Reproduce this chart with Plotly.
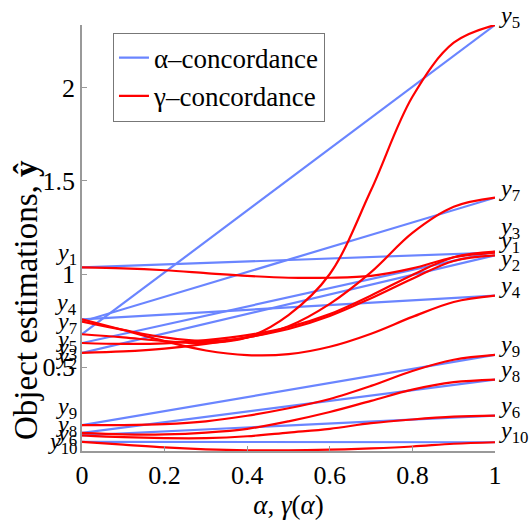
import plotly.graph_objects as go

# ---------------- data ----------------
objects = ["1", "2", "3", "4", "5", "6", "7", "8", "9", "10"]
alpha_ends = [0, 1]
start_vals = [1.035, 0.577, 0.630, 0.757, 0.677, 0.135, 0.745, 0.148, 0.190, 0.100]
end_vals = [1.115, 1.100, 1.120, 0.884, 2.335, 0.241, 1.409, 0.434, 0.566, 0.098]

alpha_grid = [0.0, 0.1, 0.2, 0.3, 0.4, 0.5, 0.6, 0.7, 0.8, 0.9, 1.0]
gamma_y1 = [1.035, 1.030, 1.020, 1.005, 0.990, 0.980, 0.980, 0.990, 1.030, 1.090, 1.115]
gamma_y2 = [0.577, 0.585, 0.600, 0.625, 0.660, 0.705, 0.775, 0.870, 0.975, 1.070, 1.100]
gamma_y3 = [0.630, 0.625, 0.628, 0.645, 0.672, 0.715, 0.785, 0.885, 0.995, 1.090, 1.120]
gamma_y4 = [0.757, 0.700, 0.640, 0.590, 0.565, 0.570, 0.610, 0.680, 0.770, 0.850, 0.884]
gamma_y5 = [0.677, 0.660, 0.640, 0.630, 0.660, 0.780, 1.000, 1.450, 1.950, 2.240, 2.335]
gamma_y6 = [0.135, 0.125, 0.120, 0.120, 0.130, 0.150, 0.170, 0.200, 0.220, 0.235, 0.241]
gamma_y7 = [0.745, 0.700, 0.660, 0.640, 0.660, 0.720, 0.840, 1.010, 1.220, 1.360, 1.409]
gamma_y8 = [0.148, 0.140, 0.140, 0.150, 0.170, 0.210, 0.260, 0.320, 0.380, 0.420, 0.434]
gamma_y9 = [0.190, 0.190, 0.195, 0.210, 0.240, 0.280, 0.330, 0.400, 0.480, 0.540, 0.566]
gamma_y10 = [0.100, 0.085, 0.070, 0.060, 0.055, 0.055, 0.058, 0.065, 0.075, 0.090, 0.098]
gamma_curves = [gamma_y1, gamma_y2, gamma_y3, gamma_y4, gamma_y5,
                gamma_y6, gamma_y7, gamma_y8, gamma_y9, gamma_y10]

x_ticks = [0, 0.2, 0.4, 0.6, 0.8, 1]
x_tick_text = ["0", "0.2", "0.4", "0.6", "0.8", "1"]
y_ticks = [0.5, 1, 1.5, 2]
y_tick_text = ["0.5", "1", "1.5", "2"]

# label pixel offsets (layout only)
left_shift = [13, -5, -6, 15, -7, 0, -1, 7, 17, -1]
right_shift = [11, -5, 24, 9, 8, 9, 8, 9, 9, 10]

BLUE = "#6a85ff"
RED = "#ff0000"
FONT = "Liberation Serif"

fig = go.Figure()
for i, name in enumerate(objects):
    fig.add_trace(go.Scatter(
        x=alpha_ends, y=[start_vals[i], end_vals[i]], mode="lines",
        line=dict(color=BLUE, width=2.2),
        name="α–concordance", legendgroup="a", showlegend=(i == 0)))
for i, name in enumerate(objects):
    fig.add_trace(go.Scatter(
        x=alpha_grid, y=gamma_curves[i], mode="lines",
        line=dict(color=RED, width=2.2, shape="spline", smoothing=1.0),
        name="γ–concordance", legendgroup="g", showlegend=(i == 0)))

annotations = []
for i, name in enumerate(objects):
    annotations.append(dict(
        x=0, y=start_vals[i], xref="x", yref="y", xanchor="right", yanchor="middle",
        xshift=-3, yshift=left_shift[i], showarrow=False,
        text=f"<i>y</i><sub>{name}</sub>", font=dict(family=FONT, size=24, color="black")))
    annotations.append(dict(
        x=1, y=end_vals[i], xref="x", yref="y", xanchor="left", yanchor="middle",
        xshift=2, yshift=right_shift[i], showarrow=False,
        text=f"<i>y</i><sub>{name}</sub>", font=dict(family=FONT, size=24, color="black")))

annotations.append(dict(
    x=-0.135, y=0.355, xref="paper", yref="paper", textangle=-90, showarrow=False,
    xanchor="center", yanchor="middle",
    text="Object estimations, <b>ŷ</b>", font=dict(family=FONT, size=33, color="black")))

fig.update_layout(
    width=529, height=525,
    margin=dict(l=82, r=34, t=25, b=68),
    plot_bgcolor="white", paper_bgcolor="white",
    font=dict(family=FONT, size=26, color="black"),
    annotations=annotations,
    legend=dict(x=0.075, y=0.982, xanchor="left", yanchor="top",
                bordercolor="#777777", borderwidth=1, bgcolor="white",
                font=dict(family=FONT, size=27), tracegroupgap=0,
                itemwidth=30),
    xaxis=dict(range=[0, 1], tickvals=x_ticks, ticktext=x_tick_text,
               showgrid=False, zeroline=False, showline=True, linecolor="#999999",
               linewidth=1.5, ticks="inside", ticklen=5, tickcolor="#999999",
               title=dict(text="<i>α</i>, <i>γ</i>(<i>α</i>)", font=dict(family=FONT, size=27),
                          standoff=4)),
    yaxis=dict(range=[0.051, 2.335], tickvals=y_ticks, ticktext=y_tick_text,
               showgrid=False, zeroline=False, showline=True, linecolor="#999999",
               linewidth=1.5, ticks="inside", ticklen=5, tickcolor="#999999"),
)

fig.write_html("out.html")
